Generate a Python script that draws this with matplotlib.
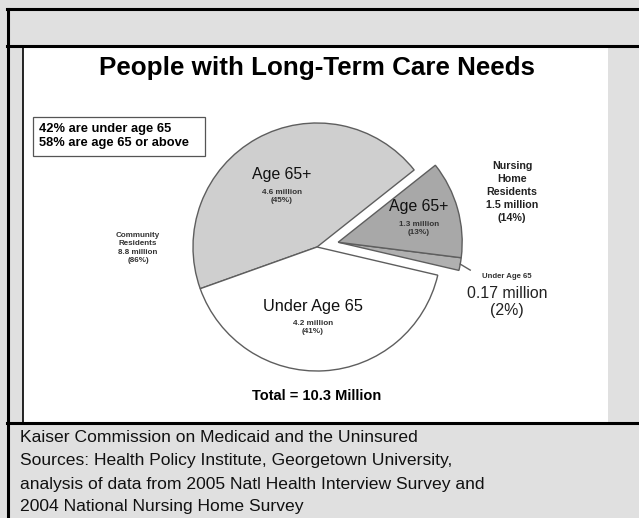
import matplotlib.pyplot as plt
from matplotlib.patches import Rectangle
import numpy as np

# chart data (millions of people)
slice_names = ['Age 65+', 'Under Age 65', 'Under Age 65', 'Age 65+']
slice_values = [4.6, 4.2, 0.17, 1.3]
slice_pcts = ['45%', '41%', '2%', '13%']
slice_colors = ['#cfcfcf', '#ffffff', '#b0b0b0', '#a8a8a8']
group_labels = ['Community\nResidents\n8.8 million\n(86%)',
                'Nursing\nHome\nResidents\n1.5 million\n(14%)']
caption = ['Kaiser Commission on Medicaid and the Uninsured',
           'Sources: Health Policy Institute, Georgetown University,',
           'analysis of data from 2005 Natl Health Interview Survey and',
           '2004 National Nursing Home Survey']

W, H = 639, 518
plt.rcParams['font.family'] = ['Liberation Sans', 'DejaVu Sans']

fig = plt.figure(figsize=(W / 100, H / 100), dpi=100)
fig.patch.set_facecolor('#e0e0e0')
ax = fig.add_axes([0, 0, 1, 1])


def Y(y):
    # picture rows (top down) to axes units (bottom up)
    return H - y


# frame / panel
ax.add_patch(Rectangle((23, Y(423)), 585, 377, facecolor='white', edgecolor='none', zorder=0))
ax.plot([7, W], [Y(8.5), Y(8.5)], color='black', lw=2.2)
ax.plot([7, W], [Y(46), Y(46)], color='black', lw=2.2)
ax.plot([7, W], [Y(423), Y(423)], color='black', lw=2.2)
ax.plot([7.5, 7.5], [Y(8.5), 0], color='black', lw=2.2)
ax.plot([22.5, 22.5], [Y(46), Y(423)], color='black', lw=1.2)

# pie
cx, cy, r = 317, Y(247), 124
wedges, _ = ax.pie(slice_values, colors=slice_colors, startangle=38.4, counterclock=True,
                   center=(cx, cy), radius=r,
                   wedgeprops=dict(edgecolor='#5e5e5e', linewidth=1.0))
# pull the nursing-home slices out together
mid = np.deg2rad((wedges[2].theta1 + wedges[3].theta2) / 2)
off = 0.175 * r
for w in wedges[2:]:
    w.set_center((cx + off * np.cos(mid), cy + off * np.sin(mid)))

# leader for the tiny slice
w = wedges[2]
th = np.deg2rad((w.theta1 + w.theta2) / 2)
x0 = w.center[0] + r * np.cos(th)
y0 = w.center[1] + r * np.sin(th)
ax.plot([x0, x0 + 10], [y0, y0 - 6], color='#5e5e5e', lw=1)

ax.set_xlim(0, W)
ax.set_ylim(0, H)
ax.set_aspect('auto')
ax.axis('off')

# texts
ax.text(317, Y(68), 'People with Long-Term Care Needs', ha='center', va='center',
        fontsize=18.7, fontweight='bold')
ax.add_patch(Rectangle((32.5, Y(155.5)), 172, 39, facecolor='white',
                       edgecolor='#555555', lw=0.9, zorder=3))
ax.text(39, Y(136), '42% are under age 65\n58% are age 65 or above', ha='left', va='center',
        fontsize=9.3, fontweight='bold', linespacing=1.2, zorder=4)


def slice_text(x, y, i, big):
    ax.text(x, Y(y), slice_names[i], ha='center', va='center', fontsize=big, color='#111111')
    ax.text(x, Y(y) - 8.5 - big * 0.45,
            f'{slice_values[i]} million\n({slice_pcts[i]})', ha='center', va='top',
            fontsize=5.9, fontweight='bold', color='#333333', linespacing=1.3)


slice_text(282, 175, 0, 11.4)
slice_text(313, 306, 1, 11.8)
slice_text(419, 207, 3, 11.4)

ax.text(138, Y(248), group_labels[0], ha='center', va='center', fontsize=5.8,
        fontweight='bold', color='#333333', linespacing=1.3)
ax.text(512, Y(192), group_labels[1], ha='center', va='center', fontsize=7.7,
        fontweight='bold', color='#222222', linespacing=1.35)

ax.text(507, Y(277), slice_names[2], ha='center', va='center', fontsize=5.6,
        fontweight='bold', color='#333333')
ax.text(507, Y(302), f'{slice_values[2]} million\n({slice_pcts[2]})', ha='center',
        va='center', fontsize=11.4, color='#222222', linespacing=1.2)

ax.text(317, Y(396), f'Total = {sum(slice_values):.1f} Million', ha='center', va='center',
        fontsize=10.5, fontweight='bold')

for k, line in enumerate(caption):
    ax.text(20, Y(438 + 23 * k), line, ha='left', va='center', fontsize=12.6,
            color='#111111')

fig.savefig('out.png', dpi=100, facecolor=fig.get_facecolor())
